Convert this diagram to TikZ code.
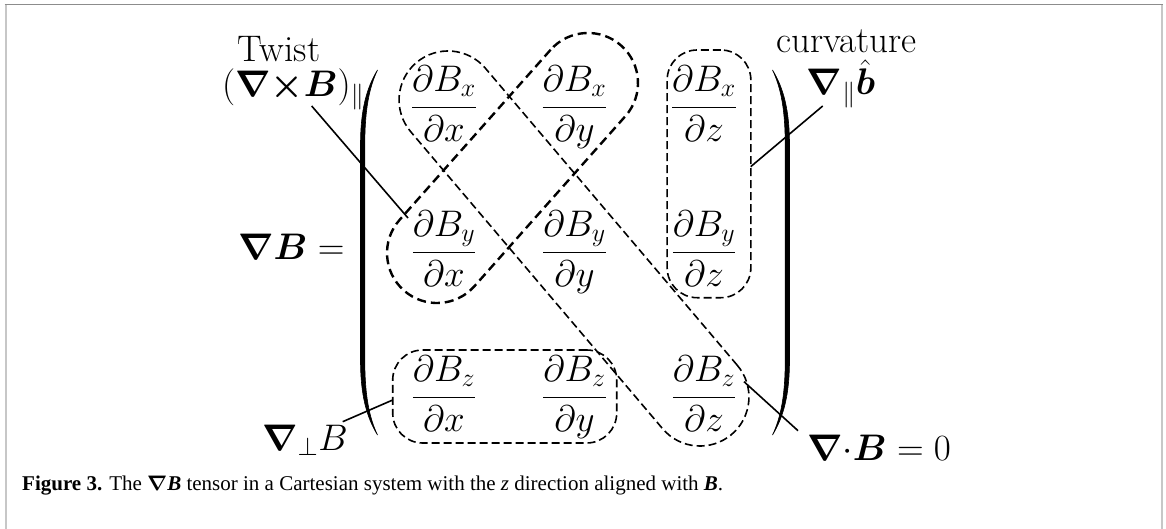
\RequirePackage{fix-cm}
\documentclass[tikz,border=0pt]{standalone}
\usepackage{amsmath}
\usepackage{bm}
\usepackage{fontspec}
\newfontfamily\capfont{Liberation Serif}
\tikzset{
  lbl/.style={font=\fontsize{37}{44}\selectfont, inner sep=0pt},
  ent/.style={font=\fontsize{37}{44}\selectfont, inner sep=0pt, anchor=base},
  thinbox/.style={draw, dash pattern=on 8pt off 4pt, line width=1.6pt, inner sep=0pt, outer sep=0pt},
  thickbox/.style={draw, dash pattern=on 9pt off 5pt, line width=2.4pt, inner sep=0pt, outer sep=0pt},
  leader/.style={line width=1.6pt},
  paren/.style={fill=black, draw=black, line width=0.6pt},
}
\begin{document}
\begin{tikzpicture}[x=1pt,y=-1pt]
\useasboundingbox (0,0) rectangle (1166,529);
% frame
\draw[black!22, line width=2pt] (5.7,529) -- (5.7,4.3);
\draw[black!22, line width=2pt] (1161.7,529) -- (1161.7,4.3);
\draw[black!45, line width=1.4pt] (4.7,4.3) -- (1162.7,4.3);

% matrix entries
\node[ent] (m11) at (444,116.25) {$\dfrac{\partial B_x}{\partial x}$};
\node[ent] (m12) at (574.5,116.25) {$\dfrac{\partial B_x}{\partial y}$};
\node[ent] (m13) at (704,116.25) {$\dfrac{\partial B_x}{\partial z}$};
\node[ent] (m21) at (444,261.25) {$\dfrac{\partial B_y}{\partial x}$};
\node[ent] (m22) at (574.5,261.25) {$\dfrac{\partial B_y}{\partial y}$};
\node[ent] (m23) at (704,261.25) {$\dfrac{\partial B_y}{\partial z}$};
\node[ent] (m31) at (444,406.25) {$\dfrac{\partial B_z}{\partial x}$};
\node[ent] (m32) at (574.5,406.25) {$\dfrac{\partial B_z}{\partial y}$};
\node[ent] (m33) at (704,406.25) {$\dfrac{\partial B_z}{\partial z}$};

% parentheses
\path[paren] (377.5,70) .. controls (366.5,88) and (360.5,110) .. (360.5,145) -- (360.5,360) .. controls (360.5,395) and (366.5,417) .. (377.5,435) .. controls (369,417) and (364.8,395) .. (364.8,360) -- (364.8,145) .. controls (364.8,110) and (369,88) .. (377.5,70) -- cycle;
\path[paren] (772.5,70) .. controls (783.5,88) and (789.5,110) .. (789.5,145) -- (789.5,360) .. controls (789.5,395) and (783.5,417) .. (772.5,435) .. controls (781,417) and (785.2,395) .. (785.2,360) -- (785.2,145) .. controls (785.2,110) and (781,88) .. (772.5,70) -- cycle;

% dashed groups
\node[thinbox, rounded corners=30pt, minimum width=83.7pt, minimum height=247.7pt] (colz) at (709,173.85) {};
\node[thinbox, rounded corners=30pt, minimum width=224pt, minimum height=93pt] (rowz) at (504.7,396.5) {};
\node[thinbox, rounded corners=49pt, minimum width=487.5pt, minimum height=98pt, rotate=-49.7] (diag) at (574,248.5) {};
\node[thickbox, rounded corners=50pt, minimum width=327.4pt, minimum height=100pt, rotate=48.4] (anti) at (512.5,168) {};

% labels
\node[lbl, anchor=base] (twist) at (279,62) {Twist};
\node[lbl, anchor=base west] (curl) at (222,97) {$(\bm{\nabla}{\bm{\times}}\bm{B})_\parallel$};
\node[lbl, anchor=base west] (gradB) at (238,259) {$\bm{\nabla}\bm{B} =$};
\node[lbl, anchor=base] (curv) at (846.5,53) {curvature};
\node[lbl, anchor=base west] (bhat) at (806.7,95) {$\bm{\nabla}_{\parallel}\hat{\bm{b}}$};
\node[lbl, anchor=base west] (perp) at (262,450) {$\bm{\nabla}_{\perp}B$};
\node[lbl, anchor=base west] (div) at (807,460) {$\bm{\nabla}{\cdot}\bm{B} = 0$};

% leader lines
\coordinate (twistA) at (311.7,106);
\coordinate (twistB) at (408,218);
\coordinate (curvA) at (822.7,106);
\coordinate (curvB) at (750.7,166.7);
\coordinate (perpA) at (342.7,421.7);
\coordinate (perpB) at (392.7,400);
\coordinate (divA) at (744,381.7);
\coordinate (divB) at (798,430.7);
\draw[leader] (twistA) -- (twistB);
\draw[leader] (curvA) -- (curvB);
\draw[leader] (perpA) -- (perpB);
\draw[leader] (divA) -- (divB);

% caption
\node[anchor=base west, inner sep=0pt, font=\capfont\fontsize{21}{25}\selectfont] (cap) at (22,490) {\textbf{Figure 3.} The $\bm{\nabla}$\textbf{\textit{B}} tensor in a Cartesian system with the \textit{z} direction aligned with \textbf{\textit{B}}.};
\end{tikzpicture}
\end{document}
